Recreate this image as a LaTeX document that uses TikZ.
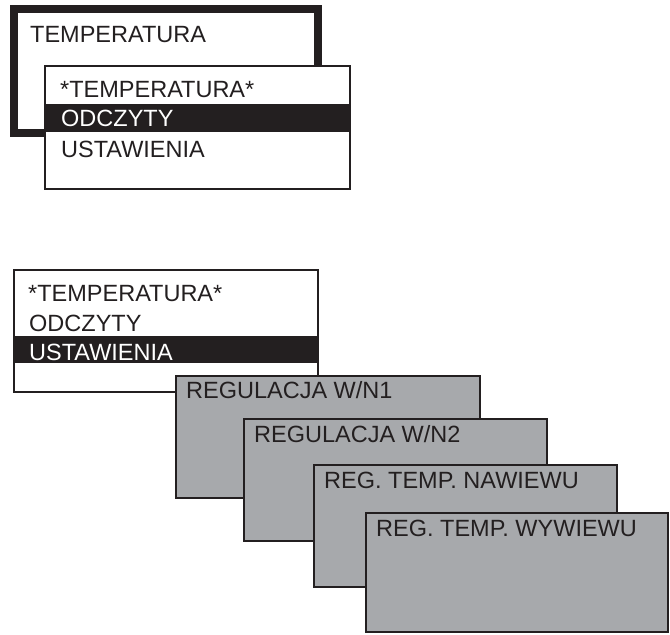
\documentclass[tikz,border=0pt]{standalone}
\usepackage{fontspec}
\setmainfont{Liberation Sans}
\definecolor{ink}{HTML}{231F20}
\definecolor{panel}{HTML}{A7A9AC}
\begin{document}
\begin{tikzpicture}[x=1pt,y=-1pt,
  scr/.style={draw=ink,line width=2pt,fill=white,anchor=north west,inner sep=0pt,outer sep=0pt},
  thickscr/.style={scr,line width=8pt},
  grayscr/.style={scr,fill=panel},
  bar/.style={fill=ink,anchor=north west,inner sep=0pt,outer sep=0pt,draw=none},
  txt/.style={anchor=base west,inner sep=0pt,text=ink,font=\fontsize{23.5}{28}\selectfont},
  wtxt/.style={txt,text=white}]
\useasboundingbox (0,0) rectangle (670,635);
% top group
\node[thickscr,minimum width=304pt,minimum height=124pt] (s1) at (14,9) {};
\node[txt] (t1) at (30,42) {TEMPERATURA};
\node[scr,minimum width=305pt,minimum height=123pt] (s2) at (45,66) {};
\node[bar,minimum width=306pt,minimum height=28pt] (b2) at (45,104) {};
\node[txt] (t2a) at (60,97) {*TEMPERATURA*};
\node[wtxt] (t2b) at (61,126) {ODCZYTY};
\node[txt] (t2c) at (61,157) {USTAWIENIA};
% bottom group
\node[scr,minimum width=304pt,minimum height=122pt] (s3) at (14,270) {};
\node[bar,minimum width=305pt,minimum height=27pt] (b3) at (14,336) {};
\node[txt] (t3a) at (28,301) {*TEMPERATURA*};
\node[txt] (t3b) at (29,331) {ODCZYTY};
\node[wtxt] (t3c) at (29,360) {USTAWIENIA};
\node[grayscr,minimum width=304pt,minimum height=122pt] (ga) at (176,376) {};
\node[txt] (ta) at (186,398) {REGULACJA W/N1};
\node[grayscr,minimum width=303pt,minimum height=122pt] (gb) at (244,419) {};
\node[txt] (tb) at (254,442) {REGULACJA W/N2};
\node[grayscr,minimum width=303pt,minimum height=122pt] (gc) at (314,465) {};
\node[txt] (tc) at (324,488) {REG. TEMP. NAWIEWU};
\node[grayscr,minimum width=302pt,minimum height=119pt] (gd) at (366,513) {};
\node[txt] (td) at (376,536) {REG. TEMP. WYWIEWU};
\end{tikzpicture}
\end{document}
